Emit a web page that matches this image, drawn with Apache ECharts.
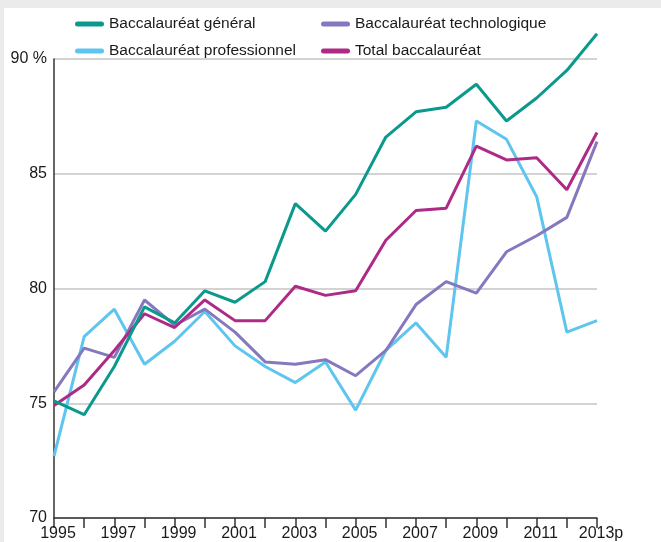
<!DOCTYPE html>
<html>
<head>
<meta charset="utf-8">
<script src="https://cdn.jsdelivr.net/npm/echarts@6/dist/echarts.min.js"></script>
<style>
html,body{margin:0;padding:0;background:#ebebeb;}
#chart{position:absolute;left:4px;top:8px;width:657px;height:534px;background:#ffffff;}
</style>
</head>
<body>
<div id="chart"></div>
<script>
var years = ['1995','1996','1997','1998','1999','2000','2001','2002','2003','2004','2005','2006','2007','2008','2009','2010','2011','2012','2013p'];
var general = [75.1, 74.5, 76.6, 79.2, 78.5, 79.9, 79.4, 80.3, 83.7, 82.5, 84.1, 86.6, 87.7, 87.9, 88.9, 87.3, 88.3, 89.5, 91.1];
var techno = [75.5, 77.4, 77.0, 79.5, 78.4, 79.1, 78.1, 76.8, 76.7, 76.9, 76.2, 77.3, 79.3, 80.3, 79.8, 81.6, 82.3, 83.1, 86.4];
var pro = [72.7, 77.9, 79.1, 76.7, 77.7, 79.0, 77.5, 76.6, 75.9, 76.8, 74.7, 77.3, 78.5, 77.0, 87.3, 86.5, 84.0, 78.1, 78.6];
var total = [74.9, 75.8, 77.3, 78.9, 78.3, 79.5, 78.6, 78.6, 80.1, 79.7, 79.9, 82.1, 83.4, 83.5, 86.2, 85.6, 85.7, 84.3, 86.8];
var seriesNames = ['Baccalauréat général', 'Baccalauréat technologique', 'Baccalauréat professionnel', 'Total baccalauréat'];
var colors = ['#0a998c', '#8678be', '#5ec5ee', '#ae2a87'];

var FONT = 'Liberation Sans, Arial, sans-serif';
var icon = 'path://M2.5,0 L26.5,0 A2.5,2.5 0 0 1 26.5,5 L2.5,5 A2.5,2.5 0 0 1 2.5,0 Z';
var chart = echarts.init(document.getElementById('chart'), null, {renderer: 'canvas'});

function mk(name, data, color) {
  return {
    name: name, type: 'line', data: data, showSymbol: false, symbol: 'none',
    clip: false,
    lineStyle: {color: color, width: 3}, itemStyle: {color: color},
    animation: false
  };
}

var legendText = {color: '#1a1a1a', fontSize: 15.5, fontFamily: FONT};

chart.setOption({
  animation: false,
  legend: [
    {data: [seriesNames[0], seriesNames[2]], orient: 'vertical', left: 66, top: 3,
     itemWidth: 29, itemHeight: 14, itemGap: 11, icon: icon, textStyle: legendText},
    {data: [seriesNames[1], seriesNames[3]], orient: 'vertical', left: 312, top: 3,
     itemWidth: 29, itemHeight: 14, itemGap: 11, icon: icon, textStyle: legendText}
  ],
  grid: {left: 50, right: 64, top: 51, bottom: 24, containLabel: false},
  xAxis: {
    type: 'category', data: years, boundaryGap: false,
    axisLine: {lineStyle: {color: '#333', width: 1.5}},
    axisTick: {show: true, interval: 0, length: 10, lineStyle: {color: '#333', width: 1.5}},
    axisLabel: {interval: 1, color: '#1a1a1a', fontSize: 16, fontFamily: FONT, margin: 8, padding: [0,0,0,8]},
    splitLine: {show: false}
  },
  yAxis: {
    type: 'value', min: 70, max: 90, interval: 5,
    axisLine: {show: true, lineStyle: {color: '#333', width: 1.5}},
    axisTick: {show: false},
    axisLabel: {color: '#1a1a1a', fontSize: 16, fontFamily: FONT, margin: 7, padding: [10,0,0,0],
      formatter: function (v) { return v === 90 ? '90 %' : String(v); }},
    splitLine: {show: true, lineStyle: {color: '#c4c4c4', width: 1.5}}
  },
  series: [
    mk(seriesNames[2], pro, colors[2]),
    mk(seriesNames[1], techno, colors[1]),
    mk(seriesNames[3], total, colors[3]),
    mk(seriesNames[0], general, colors[0])
  ]
});
</script>
</body>
</html>
